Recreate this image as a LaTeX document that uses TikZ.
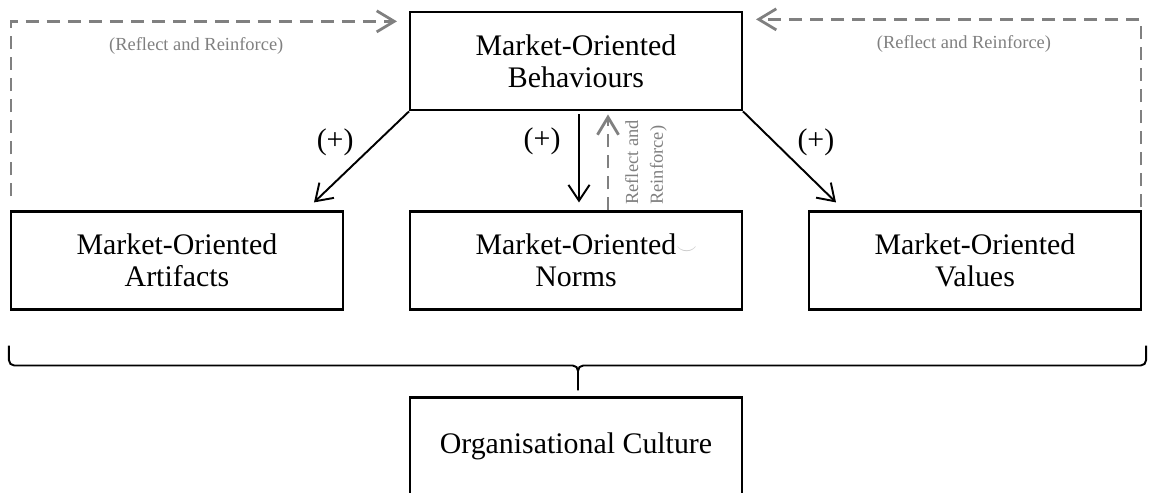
\documentclass[tikz,border=0pt]{standalone}
\usepackage{fontspec}
\setmainfont{Liberation Serif}
\usetikzlibrary{matrix,arrows.meta,calc}

\definecolor{loopgray}{RGB}{128,128,128}

\tikzset{
  mobox/.style={draw, line width=1.2pt, minimum width=6.64cm, minimum height=1.96cm,
    align=center, font=\fontsize{17}{18.5}\selectfont},
  effect/.style={-{Straight Barb[length=9pt,width=12pt]}, line width=1.1pt},
  reinforce/.style={-{Straight Barb[length=10pt,width=12pt]}, color=loopgray,
    line width=1.6pt, dash pattern=on 7.5pt off 4.5pt},
  sign/.style={font=\fontsize{17}{18.5}\selectfont, inner sep=4pt},
  loopnote/.style={text=loopgray, font=\fontsize{10.5}{14}\selectfont}
}

\begin{document}
\begin{tikzpicture}[x=0.02cm, y=-0.02cm]
  \useasboundingbox (0,0) rectangle (1149,493);
  \matrix (m) at (576,11) [row sep=1.98cm, column sep=1.30cm, inner sep=0pt, anchor=north]
  {
    & \node[mobox] (beh) {Market-Oriented\\Behaviours}; & \\
    \node[mobox] (art) {Market-Oriented\\Artifacts}; &
    \node[mobox] (nrm) {Market-Oriented\rlap{\textcolor{gray!45}{$\scriptstyle\smile$}}\\Norms}; &
    \node[mobox] (val) {Market-Oriented\\Values}; \\[-0.26cm]
    & \node[mobox] (cult) {Organisational Culture}; & \\
  };
  \path[effect]
  (beh.south west) edge node [sign, above left, yshift=-4pt] {(+)} ($(art.north east)+(-30,-8)$)
  ($(beh.south)+(3,3)$) edge node [sign, pos=0.3, left=6pt] {(+)} ($(nrm.north)+(3,-8)$)
  (beh.south east) edge node [sign, above right, yshift=-4pt] {(+)} ($(val.north west)+(28,-8)$)
              ;
  \path[reinforce]
  ($(art.north west)+(1,-14)$) edge [to path={|- (\tikztotarget) \tikztonodes}]
      node [loopnote, pos=0.74, below=5pt] {(Reflect and Reinforce)} ($(beh.north west)+(-12,10)$)
  ($(val.north east)+(-1,-3)$) edge [to path={|- (\tikztotarget) \tikztonodes}]
      node [loopnote, pos=0.73, below=5pt] {(Reflect and Reinforce)} ($(beh.north east)+(13,8)$)
  ($(nrm.north)+(32,0)$) edge node [loopnote, midway, rotate=90, anchor=north, align=left, inner ysep=9pt]
      {Reflect and\\Reinforce)} ($(beh.south)+(32,3)$)
              ;
  % brace over the three parts
  \coordinate (brL) at ($(art.south west)+(-1,35)$);
  \coordinate (brR) at ($(val.south east)+(4,35)$);
  \coordinate (brTip) at ($(cult.north)+(2,-6)$);
  \draw[line width=1.1pt, rounded corners=3pt]
    (brL) |- ($(brTip)+(0,-25)$) -- (brTip)
    (brR) |- ($(brTip)+(0,-25)$) -- (brTip);
\end{tikzpicture}
\end{document}
